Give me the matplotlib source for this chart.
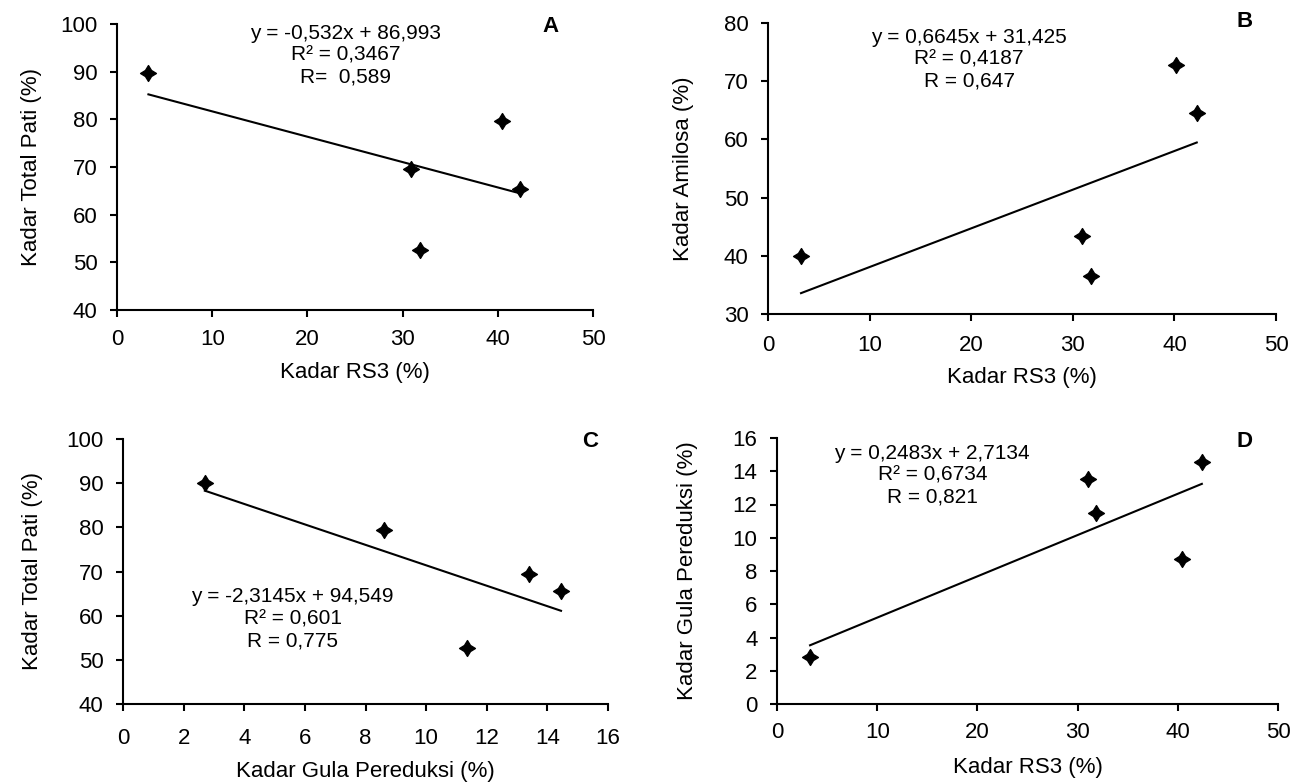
import matplotlib
matplotlib.use("Agg")
import matplotlib.pyplot as plt
import numpy as np
from matplotlib.path import Path

plt.rcParams['font.family'] = ['Liberation Sans', 'DejaVu Sans']

# ---------------- data ----------------
# Panel A: RS3 vs total starch
a_x = [3.3, 30.9, 31.8, 40.4, 42.3]
a_y = [89.8, 69.5, 52.6, 79.7, 65.4]
a_fit = (-0.532, 86.993)
a_text = ["y = -0,532x + 86,993", "R² = 0,3467", "R=  0,589"]

# Panel B: RS3 vs amylose
b_x = [3.25, 30.9, 31.8, 40.2, 42.2]
b_y = [40.0, 43.4, 36.5, 72.8, 64.5]
b_fit = (0.6645, 31.425)
b_text = ["y = 0,6645x + 31,425", "R² = 0,4187", "R = 0,647"]

# Panel C: reducing sugar vs total starch
c_x = [2.7, 8.6, 11.35, 13.4, 14.45]
c_y = [90.0, 79.5, 52.7, 69.5, 65.5]
c_fit = (-2.3145, 94.549)
c_text = ["y = -2,3145x + 94,549", "R² = 0,601", "R = 0,775"]

# Panel D: RS3 vs reducing sugar
d_x = [3.3, 31.0, 31.8, 40.4, 42.4]
d_y = [2.8, 13.55, 11.5, 8.7, 14.55]
d_fit = (0.2483, 2.7134)
d_text = ["y = 0,2483x + 2,7134", "R² = 0,6734", "R = 0,821"]

W, H = 1297, 782
fig = plt.figure(figsize=(W / 100, H / 100), dpi=100)

star = Path([(0, 1), (0.38, 0.38), (1, 0), (0.38, -0.38), (0, -1),
             (-0.38, -0.38), (-1, 0), (-0.38, 0.38), (0, 1)],
            [Path.MOVETO] + [Path.LINETO] * 7 + [Path.CLOSEPOLY])

FS = 16


def panel(box, xs, ys, fit, texts, text_xy, letter, letter_xy,
          xlim, xticks, ylim, yticks, xlabel, ylabel, xlab_y, ylab_x, xpad):
    l, r, t, b = box
    ax = fig.add_axes([l / W, 1 - b / H, (r - l) / W, (b - t) / H])
    ax.scatter(xs, ys, marker=star, s=130, color='black', zorder=3)
    m, c = fit
    lx = np.array([min(xs), max(xs)])
    ax.plot(lx, m * lx + c, color='black', lw=1.5)
    ax.set_xlim(*xlim)
    ax.set_ylim(*ylim)
    ax.set_xticks(xticks)
    ax.set_yticks(yticks)
    for s in ['top', 'right']:
        ax.spines[s].set_visible(False)
    for s in ['left', 'bottom']:
        ax.spines[s].set_linewidth(1.5)
    ax.tick_params(direction='out', length=5, width=1.5, labelsize=FS)
    ax.tick_params(axis='x', pad=xpad)
    ax.tick_params(axis='y', pad=9)
    ax.set_xlabel(xlabel, fontsize=FS)
    ax.set_ylabel(ylabel, fontsize=FS)
    ax.xaxis.set_label_coords(0.5, (b - xlab_y) / (b - t))
    ax.xaxis.label.set_va('center')
    ax.yaxis.set_label_coords((ylab_x - l) / (r - l), 0.5)
    ax.yaxis.label.set_va('center')
    tx, ty = text_xy
    ax.text(tx, ty, "\n".join(texts), fontsize=15, ha='center', va='center',
            linespacing=1.2)
    ax.text(letter_xy[0], letter_xy[1], letter, fontsize=16, fontweight='bold',
            ha='center', va='center')
    return ax


panel((117, 593, 24, 310), a_x, a_y, a_fit, a_text, (24, 93.4), 'A', (45.5, 99.4),
      (0, 50), range(0, 51, 10), (40, 100), range(40, 101, 10),
      'Kadar RS3 (%)', 'Kadar Total Pati (%)', 372, 32, 9)

panel((768, 1276, 23, 314), b_x, b_y, b_fit, b_text, (19.8, 73.8), 'B', (46.9, 80.2),
      (0, 50), range(0, 51, 10), (30, 80), range(30, 81, 10),
      'Kadar RS3 (%)', 'Kadar Amilosa (%)', 377, 683, 10)

panel((123, 608, 439, 704), c_x, c_y, c_fit, c_text, (5.6, 59.3), 'C', (15.4, 99.5),
      (0, 16), range(0, 17, 2), (40, 100), range(40, 101, 10),
      'Kadar Gula Pereduksi (%)', 'Kadar Total Pati (%)', 771, 33, 12)

panel((777, 1278, 438, 704), d_x, d_y, d_fit, d_text, (15.5, 13.75), 'D', (46.7, 15.8),
      (0, 50), range(0, 51, 10), (0, 16), range(0, 17, 2),
      'Kadar RS3 (%)', 'Kadar Gula Pereduksi (%)', 767, 687, 8)

fig.savefig('out.png', dpi=100)
